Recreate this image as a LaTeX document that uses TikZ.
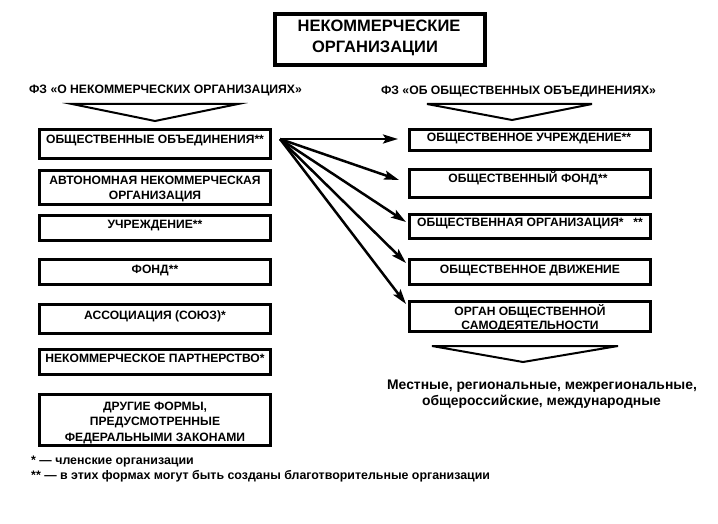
\documentclass[tikz,border=0pt]{standalone}
\usepackage{fontspec}
\setmainfont{Liberation Sans}
\usetikzlibrary{arrows.meta}
\begin{document}
\begin{tikzpicture}[x=1pt,y=-1pt,
  lbox/.style={draw, line width=3pt, minimum width=231pt, inner sep=0pt},
  rbox/.style={draw, line width=3pt, minimum width=241pt, inner sep=0pt},
  tbox/.style={draw, line width=4pt, minimum width=210pt, minimum height=51pt, inner sep=0pt},
  lbl/.style={font=\bfseries\fontsize{12.1}{13}\selectfont, inner sep=0pt, anchor=base},
  head/.style={font=\bfseries\fontsize{12.2}{13}\selectfont, inner sep=0pt, anchor=base},
  ttl/.style={font=\bfseries\fontsize{16.5}{19}\selectfont, inner sep=0pt, anchor=base},
  big/.style={font=\bfseries\fontsize{13.9}{16}\selectfont, inner sep=0pt, anchor=base},
  foot/.style={font=\bfseries\fontsize{12.4}{13}\selectfont, inner sep=0pt, anchor=base west},
  chev/.style={draw, line width=2pt, line join=miter},
  arr/.style={line width=2.5pt, -{Stealth[length=15pt,width=9pt,inset=3pt]}}
]
\useasboundingbox (0,0) rectangle (718,524);

% title
\node[tbox] (T) at (380,39.5) {};
\node[ttl] (T1) at (379,32) {НЕКОММЕРЧЕСКИЕ};
\node[ttl] (T2) at (375,52.8) {ОРГАНИЗАЦИИ};

% headings
\node[head] (HL) at (165.5,93.5) {ФЗ «О НЕКОММЕРЧЕСКИХ ОРГАНИЗАЦИЯХ»};
\node[head] (HR) at (518.5,94.5) {ФЗ «ОБ ОБЩЕСТВЕННЫХ ОБЪЕДИНЕНИЯХ»};

% chevrons
\draw[chev] (72,104) -- (238,104) -- (155,121) -- cycle;
\draw[chev] (427,104) -- (592,104) -- (512,120) -- cycle;
\draw[chev] (432,346) -- (618,346) -- (523,362) -- cycle;

% left boxes
\node[lbox, minimum height=29pt] (L1) at (155,144) {};
\node[lbox, minimum height=34pt] (L2) at (155,187.5) {};
\node[lbox, minimum height=25pt] (L3) at (155,228) {};
\node[lbox, minimum height=25pt] (L4) at (155,272) {};
\node[lbox, minimum height=29pt] (L5) at (155,319) {};
\node[lbox, minimum height=25pt] (L6) at (155,362) {};
\node[lbox, minimum height=51pt] (L7) at (155,420) {};

\node[lbl] (l1) at (155,143.3) {ОБЩЕСТВЕННЫЕ ОБЪЕДИНЕНИЯ**};
\node[lbl] (l2a) at (155,184.3) {АВТОНОМНАЯ НЕКОММЕРЧЕСКАЯ};
\node[lbl] (l2b) at (155,199.3) {ОРГАНИЗАЦИЯ};
\node[lbl] (l3) at (155,228.3) {УЧРЕЖДЕНИЕ**};
\node[lbl] (l4) at (155,273.3) {ФОНД**};
\node[lbl] (l5) at (155,319.3) {АССОЦИАЦИЯ (СОЮЗ)*};
\node[lbl] (l6) at (155,362.8) {НЕКОММЕРЧЕСКОЕ ПАРТНЕРСТВО*};
\node[lbl] (l7a) at (155,410.3) {ДРУГИЕ ФОРМЫ,};
\node[lbl] (l7b) at (155,425.8) {ПРЕДУСМОТРЕННЫЕ};
\node[lbl] (l7c) at (155,441.8) {ФЕДЕРАЛЬНЫМИ ЗАКОНАМИ};

% right boxes
\node[rbox, minimum height=21pt] (R1) at (530,140) {};
\node[rbox, minimum height=28pt] (R2) at (530,183.5) {};
\node[rbox, minimum height=24pt] (R3) at (530,226.5) {};
\node[rbox, minimum height=25pt] (R4) at (530,272) {};
\node[rbox, minimum height=30pt] (R5) at (530,316.5) {};

\node[lbl] (r1) at (529,141.3) {ОБЩЕСТВЕННОЕ УЧРЕЖДЕНИЕ**};
\node[lbl] (r2) at (528,182.3) {ОБЩЕСТВЕННЫЙ ФОНД**};
\node[lbl] (r3) at (530,226.3) {ОБЩЕСТВЕННАЯ ОРГАНИЗАЦИЯ*\hspace{0.8em}**};
\node[lbl] (r4) at (530,273.3) {ОБЩЕСТВЕННОЕ ДВИЖЕНИЕ};
\node[lbl] (r5a) at (530,315.3) {ОРГАН ОБЩЕСТВЕННОЙ};
\node[lbl] (r5b) at (530,329.3) {САМОДЕЯТЕЛЬНОСТИ};

% arrows
\coordinate (S) at (280,139);
\coordinate (E1) at (398,139);
\coordinate (E2) at (399,180);
\coordinate (E3) at (406,222);
\coordinate (E4) at (406,263);
\coordinate (E5) at (406,304);
\foreach \e in {E1,E2,E3,E4,E5} \draw[arr] (S) -- (\e);

% bottom text
\node[big] (B1) at (542,389) {Местные, региональные, межрегиональные,};
\node[big] (B2) at (541.5,405) {общероссийские, международные};

% footnotes
\node[foot] (F1) at (31,464) {* — членские организации};
\node[foot] (F2) at (31,479) {** — в этих формах могут быть созданы благотворительные организации};
\end{tikzpicture}
\end{document}
